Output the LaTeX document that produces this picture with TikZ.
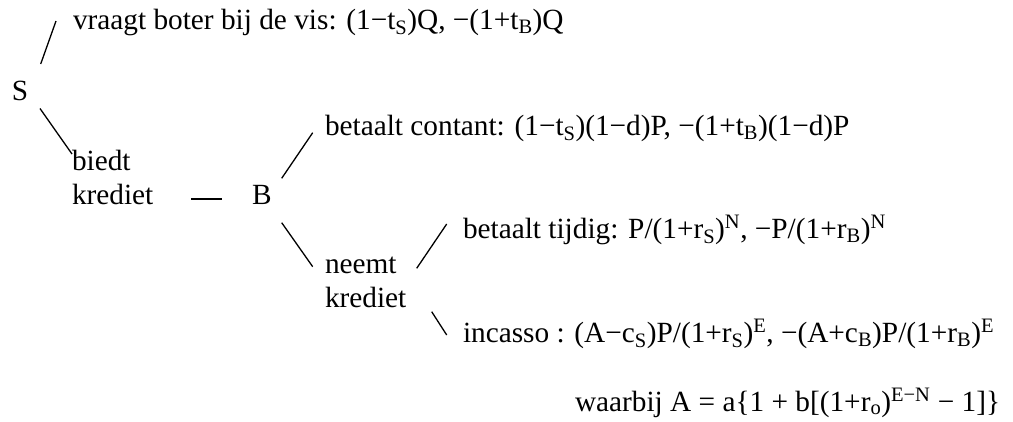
\documentclass[tikz,border=0pt]{standalone}
\usepackage{fontspec}
\setmainfont{Liberation Serif}
\newcommand{\twoline}[2]{\begin{tabular}[t]{@{}l@{}}#1\\#2\end{tabular}}
\tikzset{
  lbl/.style={inner sep=0pt, outer sep=0pt, anchor=base west, font=\fontsize{29.3}{34.4}\selectfont},
  branch/.style={line width=1.3pt, line cap=butt}
}
\begin{document}
\begin{tikzpicture}[x=1pt,y=-1pt]
\useasboundingbox (0,0) rectangle (1013,421);
% nodes
\node[lbl] (S) at (12,100) {S};
\node[lbl] (q) at (73,29) {vraagt boter bij de vis: (1−t\textsubscript{S})Q, −(1+t\textsubscript{B})Q};
\node[lbl] (bk) at (72,170) {\twoline{biedt}{krediet}};
\node[lbl] (B) at (252,204) {B};
\node[lbl] (cont) at (325,135) {betaalt contant: (1−t\textsubscript{S})(1−d)P, −(1+t\textsubscript{B})(1−d)P};
\node[lbl] (nk) at (325,273) {\twoline{neemt}{krediet}};
\node[lbl] (tijd) at (463,238) {betaalt tijdig: P/(1+r\textsubscript{S})\textsuperscript{N}, −P/(1+r\textsubscript{B})\textsuperscript{N}};
\node[lbl] (inc) at (463,342) {incasso : (A−c\textsubscript{S})P/(1+r\textsubscript{S})\textsuperscript{E}, −(A+c\textsubscript{B})P/(1+r\textsubscript{B})\textsuperscript{E}};
\node[lbl] (wb) at (575,411) {waarbij A = a\{1 + b[(1+r\textsubscript{o})\textsuperscript{E−N} − 1]\}};
% connector end points
\coordinate (s1) at (40.7,64);   \coordinate (q1) at (56,21);
\coordinate (s2) at (40,108.5);  \coordinate (b1) at (72,154);
\coordinate (k1) at (191,199);   \coordinate (B0) at (222,199);
\coordinate (B1) at (281.7,178.3); \coordinate (c1) at (312.7,132.7);
\coordinate (B2) at (281.7,222.7); \coordinate (n1) at (312.7,266.7);
\coordinate (n2) at (416.7,268.3); \coordinate (t1) at (446.7,224);
\coordinate (n3) at (431.7,311.7); \coordinate (i1) at (446.7,335);
% connectors
\draw[branch] (s1) -- (q1);
\draw[branch] (s2) -- (b1);
\draw[branch] (k1) -- (B0);
\draw[branch] (B1) -- (c1);
\draw[branch] (B2) -- (n1);
\draw[branch] (n2) -- (t1);
\draw[branch] (n3) -- (i1);
\end{tikzpicture}
\end{document}
